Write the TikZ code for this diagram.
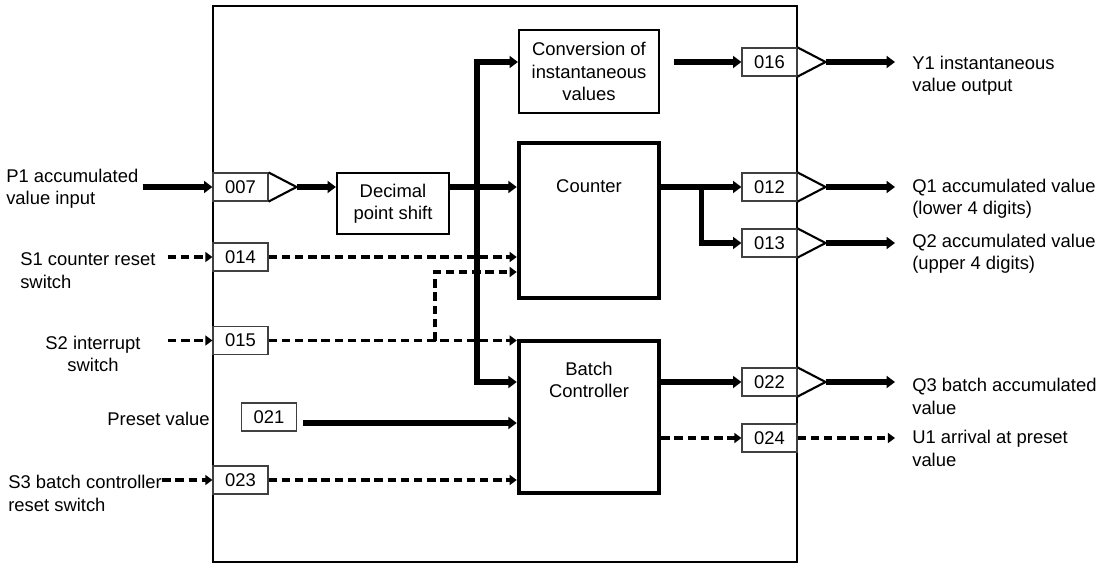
\documentclass[tikz,border=0pt]{standalone}
\usepackage{fontspec}
\setmainfont{Liberation Sans}
\usetikzlibrary{arrows.meta,positioning,calc}

\begin{document}
\begin{tikzpicture}[
    every node/.style={font=\fontsize{13.1}{15.9}\selectfont},
    sysframe/.style={draw, line width=1.5pt, inner sep=0pt},
    param/.style={
        rectangle,
        draw=black!75,
        line width=0.8pt,
        minimum width=1.375cm,
        minimum height=0.7cm,
        inner sep=0pt
    },
    fblock/.style={
        rectangle,
        draw,
        line width=1.5pt,
        align=center,
        inner sep=0pt
    },
    cblock/.style={fblock, line width=3.2pt, minimum width=3.5cm},
    amp/.style={draw, line width=1.5pt, line join=miter},
    dat/.style={-{Triangle[length=6pt,width=8.5pt]}, line width=3.8pt},
    ctl/.style={-{Triangle[length=5pt,width=7pt]}, line width=2.5pt,
        dash pattern=on 6pt off 3.4pt},
    iolabel/.style={align=left, inner sep=0pt}
]
\useasboundingbox (0,0) rectangle (27.575,-14.075);

% System frame
\node[sysframe, minimum width=14.6cm, minimum height=13.9cm] (sys) at (12.625,-7.1) {};

% Input parameters
\node[param] (c007) at (6.0125,-4.675)  {007};
\node[param] (c014) at (6.0125,-6.425)  {014};
\node[param] (c015) at (6.0125,-8.5125) {015};
\node[param] (c021) at (6.725,-10.425)  {021};
\node[param] (c023) at (6.0125,-12.0)   {023};

% Output parameters
\node[param] (c016) at (19.2375,-1.55)  {016};
\node[param] (c012) at (19.2375,-4.675) {012};
\node[param] (c013) at (19.2375,-6.075) {013};
\node[param] (c022) at (19.2375,-9.55)  {022};
\node[param] (c024) at (19.2375,-10.95) {024};

% Amplifier triangles
\coordinate[right=0.7cm of c007] (a007);
\coordinate[right=0.7cm of c016] (a016);
\coordinate[right=0.7cm of c012] (a012);
\coordinate[right=0.7cm of c013] (a013);
\coordinate[right=0.7cm of c022] (a022);
\draw[amp] (c007.north east) -- (a007) -- (c007.south east);
\draw[amp] (c016.north east) -- (a016) -- (c016.south east);
\draw[amp] (c012.north east) -- (a012) -- (c012.south east);
\draw[amp] (c013.north east) -- (a013) -- (c013.south east);
\draw[amp] (c022.north east) -- (a022) -- (c022.south east);

% Function blocks
\node[fblock, minimum width=2.8cm, minimum height=1.525cm] (decimal) at (9.825,-5.0875)
  {Decimal\\point shift};
\node[fblock, minimum width=3.5cm, minimum height=2.075cm] (conv) at (14.725,-1.7875)
  {Conversion of\\instantaneous\\values};
\node[cblock, minimum height=3.875cm,
      label={[anchor=center,yshift=-1.125cm]north:Counter}] (counter) at (14.725,-5.5125) {};
\node[cblock, minimum height=3.8cm,
      label={[anchor=center,align=center,yshift=-1.025cm]north:{Batch\\Controller}}] (batch) at (14.725,-10.425) {};

% Left labels
\node[iolabel, anchor=west] (p1) at (0.15,-4.725) {P1 accumulated\\value input};
\node[iolabel, anchor=west] (s1) at (0.5,-6.7625) {S1 counter reset\\switch};
\node[iolabel, align=center] (s2) at (2.325,-8.85) {S2 interrupt\\switch};
\node[iolabel, anchor=east] (preset) at (5.25,-10.475) {Preset value};
\node[iolabel, anchor=west] (s3) at (0.2,-12.3375) {S3 batch controller\\reset switch};

% Right labels
\node[iolabel, anchor=west] (y1) at (22.8,-1.9)     {Y1 instantaneous\\value output};
\node[iolabel, anchor=west] (q1) at (22.8,-4.9625)  {Q1 accumulated value\\(lower 4 digits)};
\node[iolabel, anchor=west] (q2) at (22.8,-6.35)    {Q2 accumulated value\\(upper 4 digits)};
\node[iolabel, anchor=west] (q3) at (22.8,-9.9125)  {Q3 batch accumulated\\value};
\node[iolabel, anchor=west] (u1) at (22.8,-11.2125) {U1 arrival at preset\\value};

% Inputs into the frame
\draw[dat] ($(p1.east |- c007)+(0.1,0)$)   -- (c007.west);
\draw[ctl] ($(s1.east |- c014)+(0.3,0)$)   -- (c014.west);
\draw[ctl] ($(s2.east |- c015)+(0.675,0)$) -- (c015.west);
\draw[ctl] (s3.east |- c023)               -- (c023.west);

% Data path
\coordinate (bus) at (11.925,-4.675);
\draw[dat] (a007) -- (a007 -| decimal.west);
\draw[dat] (a007 -| decimal.east) -- (a007 -| counter.west);
\draw[dat] (bus) |- (conv.west |- c016);
\draw[dat] (bus) |- (batch.west |- c022);
\draw[dat] ($(conv.east |- c016)+(0.35,0)$) -- (c016.west);
\draw[dat] (counter.east |- c012) -- (c012.west);
\draw[dat] ($(counter.east |- c012)!0.5!(c012.west)$) |- (c013.west);
\draw[dat] (batch.east |- c022) -- (c022.west);
\draw[dat] ($(c021.east)+(0.15,-0.15)$) -- ($(batch.west)+(0,-0.15)$);

% Control signals
\coordinate (tap) at (10.875,-6.8);
\draw[ctl] (c014.east) -- (c014.east -| counter.west);
\draw[ctl] (c015.east) -- (c015.east -| batch.west);
\draw[ctl] (tap |- c015) |- (tap -| counter.west);
\draw[ctl] (c023.east) -- (c023.east -| batch.west);
\draw[ctl] (batch.east |- c024) -- (c024.west);

% Outputs out of the frame
\draw[dat] (a016) -- ($(y1.west |- a016)+(-0.425,0)$);
\draw[dat] (a012) -- ($(q1.west |- a012)+(-0.425,0)$);
\draw[dat] (a013) -- ($(q2.west |- a013)+(-0.425,0)$);
\draw[dat] (a022) -- ($(q3.west |- a022)+(-0.425,0)$);
\draw[ctl] (c024.east) -- ($(u1.west |- c024)+(-0.425,0)$);

\end{tikzpicture}
\end{document}
